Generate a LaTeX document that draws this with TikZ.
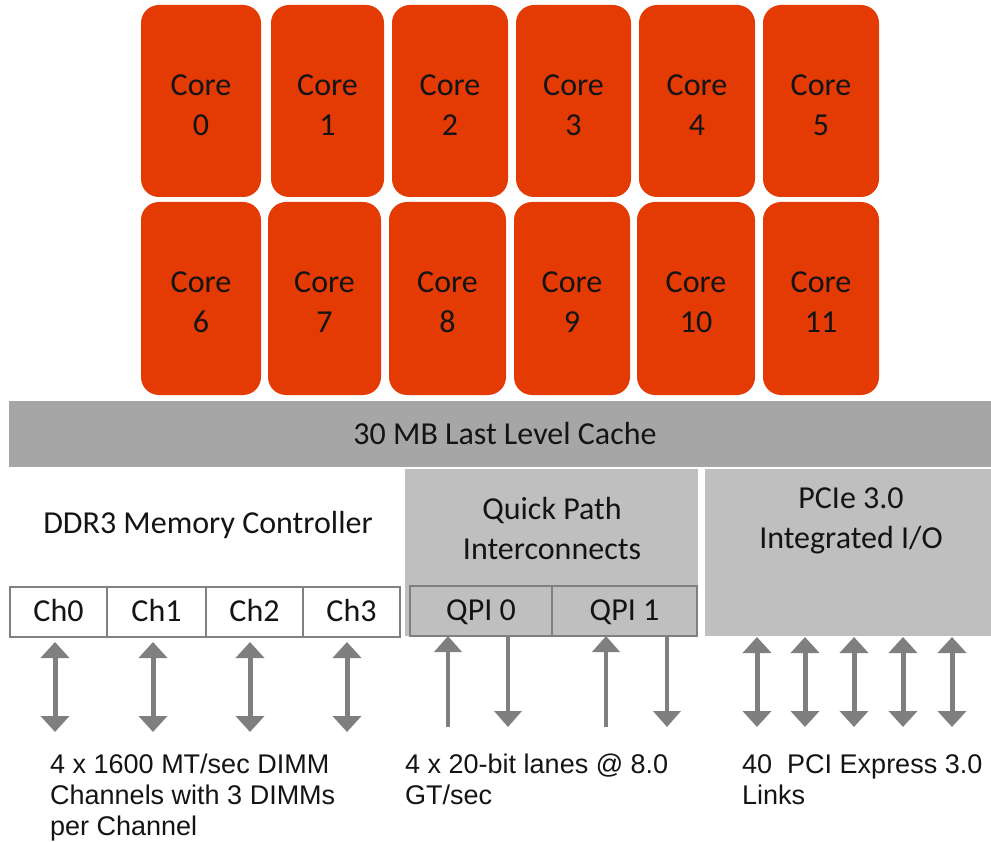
\documentclass[tikz,border=0pt]{standalone}
\usepackage{fontspec}
\setmainfont{Carlito}
\newfontfamily\notefont{Liberation Sans}
\usetikzlibrary{arrows.meta}

\definecolor{coreorange}{RGB}{228,58,4}
\definecolor{cachegray}{RGB}{166,166,166}
\definecolor{blockgray}{RGB}{191,191,191}
\definecolor{edgegray}{RGB}{128,128,128}
\definecolor{arrowgray}{RGB}{127,127,127}
\definecolor{inkdark}{RGB}{20,20,20}

\tikzset{
  core/.style={fill=coreorange, draw=none, rounded corners=18pt, inner sep=0pt,
    label={[corelabel]center:{#1}}},
  corelabel/.style={align=center, text=inkdark, inner sep=0pt, yshift=-4pt,
    font=\fontsize{32}{40}\selectfont},
  cachebar/.style={fill=cachegray, draw=none, inner sep=0pt,
    text=inkdark, font=\fontsize{32}{40}\selectfont},
  block/.style={fill=blockgray, draw=none, inner sep=0pt},
  blocklabel/.style={align=center, text=inkdark, font=\fontsize{32}{40}\selectfont},
  chcell/.style={fill=white, draw=edgegray, line width=1.4pt, inner sep=0pt,
    minimum height=50pt, text height=21pt, text depth=3pt,
    text=inkdark, font=\fontsize{32}{40}\selectfont},
  qpicell/.style={fill=blockgray, draw=edgegray, line width=1.4pt, inner sep=0pt,
    minimum height=50pt, text height=21pt, text depth=3pt,
    text=inkdark, font=\fontsize{32}{40}\selectfont},
  note/.style={anchor=base west, align=left, inner sep=0pt, text=inkdark,
    font=\notefont\fontsize{27}{31}\selectfont},
  dblarrow/.style={draw=arrowgray, line width=5pt,
    {Triangle[width=28pt,length=16pt]}-{Triangle[width=28pt,length=16pt]}},
  uparrow/.style={draw=arrowgray, line width=4pt,
    -{Triangle[width=27pt,length=16pt]}},
}

\begin{document}
\begin{tikzpicture}[x=1pt,y=-1pt]
\useasboundingbox (0,0) rectangle (991,842);

% cores, first row
\node[core={Core\\0}, minimum width=120pt, minimum height=192pt] (c0) at (201,101) {};
\node[core={Core\\1}, minimum width=113pt, minimum height=192pt] (c1) at (327.5,101) {};
\node[core={Core\\2}, minimum width=116pt, minimum height=192pt] (c2) at (450,101) {};
\node[core={Core\\3}, minimum width=115pt, minimum height=192pt] (c3) at (573.5,101) {};
\node[core={Core\\4}, minimum width=116pt, minimum height=192pt] (c4) at (697,101) {};
\node[core={Core\\5}, minimum width=116pt, minimum height=192pt] (c5) at (821,101) {};

% cores, second row
\node[core={Core\\6}, minimum width=120pt, minimum height=193pt] (c6) at (201,298.5) {};
\node[core={Core\\7}, minimum width=113pt, minimum height=193pt] (c7) at (324.5,298.5) {};
\node[core={Core\\8}, minimum width=117pt, minimum height=193pt] (c8) at (447.5,298.5) {};
\node[core={Core\\9}, minimum width=116pt, minimum height=193pt] (c9) at (572,298.5) {};
\node[core={Core\\10}, minimum width=118pt, minimum height=193pt] (c10) at (696,298.5) {};
\node[core={Core\\11}, minimum width=116pt, minimum height=193pt] (c11) at (821,298.5) {};

% shared cache
\node[cachebar, minimum width=982pt, minimum height=66pt] (llc) at (500,434) {\hspace*{10pt}30 MB Last Level Cache};

% memory controller
\node[blocklabel] (ddr) at (208,525) {DDR3 Memory Controller};
\node[chcell, minimum width=97pt] (ch0) at (58.5,612) {Ch0};
\node[chcell, minimum width=99pt] (ch1) at (156.5,612) {Ch1};
\node[chcell, minimum width=97pt] (ch2) at (254.5,612) {Ch2};
\node[chcell, minimum width=97pt] (ch3) at (351.5,612) {Ch3};

% quick path interconnect block
\node[block, minimum width=293pt, minimum height=167pt] (qp) at (551.5,552.5) {};
\node[blocklabel] (qptext) at (552,529) {Quick Path\\Interconnects};
\node[qpicell, minimum width=142pt] (q0) at (481,611) {QPI 0};
\node[qpicell, minimum width=145pt] (q1) at (624.5,611) {QPI 1};

% PCIe block
\node[block, minimum width=286pt, minimum height=167pt] (pcie) at (848,552.5) {};
\node[blocklabel] (pcietext) at (851,521) {PCIe 3.0\\Integrated I/O};

% memory channel links
\coordinate (m0t) at (55,642);  \coordinate (m0b) at (55,732);
\coordinate (m1t) at (153,642); \coordinate (m1b) at (153,732);
\coordinate (m2t) at (250,642); \coordinate (m2b) at (250,732);
\coordinate (m3t) at (347,642); \coordinate (m3b) at (347,732);
\draw[dblarrow] (m0t) -- (m0b);
\draw[dblarrow] (m1t) -- (m1b);
\draw[dblarrow] (m2t) -- (m2b);
\draw[dblarrow] (m3t) -- (m3b);

% QPI links: one inbound and one outbound per port
\coordinate (q0in) at (448,727);  \coordinate (q0inend) at (448,636);
\coordinate (q0out) at (508,636); \coordinate (q0outend) at (508,727);
\coordinate (q1in) at (606,727);  \coordinate (q1inend) at (606,636);
\coordinate (q1out) at (667,636); \coordinate (q1outend) at (667,727);
\draw[uparrow] (q0in) -- (q0inend);
\draw[uparrow] (q0out) -- (q0outend);
\draw[uparrow] (q1in) -- (q1inend);
\draw[uparrow] (q1out) -- (q1outend);

% PCIe links
\foreach \i/\x in {0/757,1/805,2/854,3/903,4/952}{
  \coordinate (p\i t) at (\x,637);
  \coordinate (p\i b) at (\x,727);
  \draw[dblarrow] (p\i t) -- (p\i b);
}

% link descriptions (anchored at the baseline of the last line)
\node[note] (memnote) at (50,835) {4 x 1600 MT/sec DIMM\\Channels with 3 DIMMs\\per Channel};
\node[note] (qpinote) at (405,804) {4 x 20-bit lanes @ 8.0\\GT/sec};
\node[note] (pcienote) at (742,804) {40~~PCI Express 3.0\\Links};
\end{tikzpicture}
\end{document}
